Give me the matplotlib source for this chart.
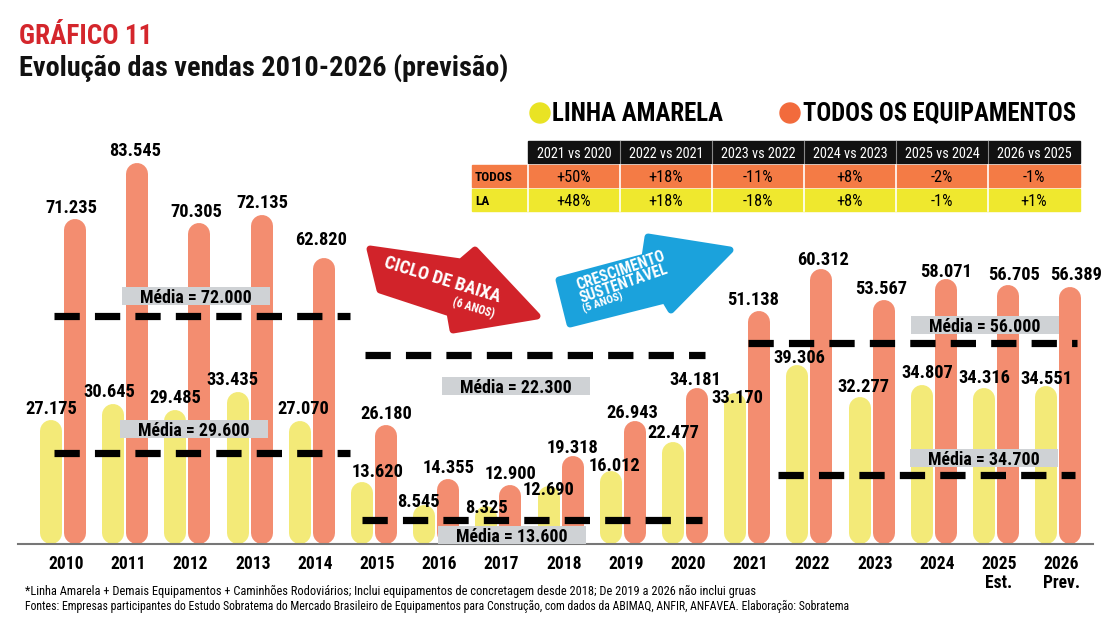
import numpy as np
import matplotlib.pyplot as plt
from matplotlib import font_manager as fm
from matplotlib.patches import Polygon, Rectangle, Circle

# fonte condensada se existir, senão Roboto (mais estreita que DejaVu)
avail = {f.name for f in fm.fontManager.ttflist}
narrow = [n for n in ['Liberation Sans Narrow', 'Roboto Condensed', 'Open Sans Condensed']
          if n in avail]
if narrow:
    FAM, K = narrow[0], 1.12
else:
    FAM, K = 'Roboto', 1.0
plt.rcParams['font.family'] = [FAM, 'DejaVu Sans']

# dados
years = np.arange(2010, 2027)
year_labels = ['2010', '2011', '2012', '2013', '2014', '2015', '2016', '2017', '2018',
               '2019', '2020', '2021', '2022', '2023', '2024', '2025\nEst.', '2026\nPrev.']
linha_amarela = [27175, 30645, 29485, 33435, 27070, 13620, 8545, 8325, 12690,
                 16012, 22477, 33170, 39306, 32277, 34807, 34316, 34551]
todos = [71235, 83545, 70305, 72135, 62820, 26180, 14355, 12900, 19318,
         26943, 34181, 51138, 60312, 53567, 58071, 56705, 56389]

media_text = ['Média = 72.000', 'Média = 29.600', 'Média = 22.300',
              'Média = 13.600', 'Média = 56.000', 'Média = 34.700']
# altura em que cada linha aparece no gráfico (não está em escala com o valor)
media_nivel = [50000, 20000, 41400, 5300, 44100, 15100]
media_ini = [2009.86, 2009.86, 2014.86, 2014.80, 2021.01, 2021.50]
media_fim = [2014.61, 2014.61, 2020.32, 2020.28, 2026.30, 2026.27]
media_box_x = [2012.14, 2012.10, 2017.28, 2017.22, 2024.82, 2024.80]
media_box_y = [54300, 25300, 34600, 1900, 48100, 18900]

tab_cols = ['2021 vs 2020', '2022 vs 2021', '2023 vs 2022', '2024 vs 2023', '2025 vs 2024', '2026 vs 2025']
tab_todos = ['+50%', '+18%', '-11%', '+8%', '-2%', '-1%']
tab_la = ['+48%', '+18%', '-18%', '+8%', '-1%', '+1%']

# ajustes finos dos rótulos (px)
la_dx = [0, -4, 0, -5, 3, 16, -6, 0, 0, 4, 0, 2, 2, 4, 5, 0, 0]
la_dy = [11, 12, 12, 12, 12, 10, 3, -2, -4, 5, 9, -5, 7, 10, 12, 10, 7]
to_dx = [-4, -2, -3, 1, -3, 0, 0, 0, 0, -2, -2, -6, 2, -2, 0, 6, 6]
to_dy = [11, 12, 11, 12, 18, 11, 11, 11, 8, 8, 8, 11, 9, 11, 7, 10, 12]

YEL = '#f3ea78'
ORA = '#f38d70'

W, H, DPI = 1116, 623, 100
fig = plt.figure(figsize=(W / DPI, H / DPI), dpi=DPI)
fig.patch.set_facecolor('white')

base_px = 544
top_px = 88
ax = fig.add_axes([0, (H - base_px) / H, 1, (base_px - top_px) / H])
px_year = 62.2
x0 = 2010 - 63 / px_year
ax.set_xlim(x0, x0 + W / px_year)
ax.set_ylim(0, 100000)
ax.set_axis_off()
px_val = (base_px - top_px) / 100000

off = 12 / px_year
bar_px = 22
lw = bar_px * 72 / DPI
r = (bar_px / 2) / px_val

for i, y in enumerate(years):
    ax.plot([y - off, y - off], [r, linha_amarela[i] - r], color=YEL, lw=lw,
            solid_capstyle='round', zorder=2)
    ax.plot([y + off, y + off], [r, todos[i] - r], color=ORA, lw=lw,
            solid_capstyle='round', zorder=3)
    ax.annotate(f'{linha_amarela[i] / 1000:.3f}', (y - off, linha_amarela[i]),
                xytext=(la_dx[i], la_dy[i]), textcoords='offset pixels',
                ha='center', va='center', fontsize=11.8 * K, fontweight='bold', zorder=6)
    ax.annotate(f'{todos[i] / 1000:.3f}', (y + off, todos[i]),
                xytext=(to_dx[i], to_dy[i]), textcoords='offset pixels',
                ha='center', va='center', fontsize=11.8 * K, fontweight='bold', zorder=6)
    ax.annotate(year_labels[i], (y + 0.05, 0), xytext=(0, -11), textcoords='offset pixels',
                ha='center', va='top', fontsize=11.3 * K, fontweight='bold',
                linespacing=1.05, annotation_clip=False)

ax.plot([2009.28, 2026.56], [0, 0], color='#777777', lw=1.5, zorder=4, clip_on=False)

box_w = 148 / px_year
box_h = 18 / px_val
for i in range(len(media_text)):
    ax.plot([media_ini[i], media_fim[i]], [media_nivel[i]] * 2, color='black', lw=5.2,
            dashes=(3.5, 2.1), dash_capstyle='butt', zorder=5)
    ax.add_patch(Rectangle((media_box_x[i] - box_w / 2, media_box_y[i] - box_h / 2), box_w, box_h,
                           fc='#cfd2d5', ec='none', zorder=6))
    ax.text(media_box_x[i], media_box_y[i], media_text[i], ha='center', va='center_baseline',
            fontsize=11.5 * K, fontweight='bold', zorder=7)

# camada de anotação em pixels
ov = fig.add_axes([0, 0, 1, 1])
ov.set_xlim(0, W)
ov.set_ylim(H, 0)
ov.set_axis_off()
ov.patch.set_alpha(0)

ov.text(19, 44, 'GRÁFICO 11', color='#d4262c', fontsize=17.5 * K, fontweight='bold', va='baseline')
ov.text(19, 76, 'Evolução das vendas 2010-2026 (previsão)', color='#111111', fontsize=18.2 * K,
        fontweight='bold', va='baseline')

ov.add_patch(Circle((540, 113), 10, color='#e9e324'))
ov.text(552, 121, 'LINHA AMARELA', fontsize=16 * K, fontweight='bold', va='baseline')
ov.add_patch(Circle((790, 113), 10, color='#f26b3c'))
ov.text(803, 121, 'TODOS OS EQUIPAMENTOS', fontsize=15.8 * K, fontweight='bold', va='baseline')

# tabela
tx0, tx1 = 528, 1080
cw = (tx1 - tx0) / len(tab_cols)
rows = [(141, 163), (165, 187), (189, 211)]
ov.add_patch(Rectangle((tx0, rows[0][0]), tx1 - tx0, rows[0][1] - rows[0][0], color='#111111'))
ov.add_patch(Rectangle((472, rows[1][0]), tx1 - 472, rows[1][1] - rows[1][0], color='#f47b45'))
ov.add_patch(Rectangle((472, rows[2][0]), tx1 - 472, rows[2][1] - rows[2][0], color='#efe82e'))
for j in range(len(tab_cols)):
    cx = tx0 + cw * (j + 0.5)
    ov.text(cx, (rows[0][0] + rows[0][1]) / 2, tab_cols[j], color='white', fontsize=9.2 * K,
            ha='center', va='center_baseline')
    ov.text(cx, (rows[1][0] + rows[1][1]) / 2, tab_todos[j], fontsize=10.5 * K,
            ha='center', va='center_baseline')
    ov.text(cx, (rows[2][0] + rows[2][1]) / 2, tab_la[j], fontsize=10.5 * K,
            ha='center', va='center_baseline')
for j in range(1, len(tab_cols)):
    xx = tx0 + cw * j
    ov.plot([xx, xx], [rows[0][0], rows[0][1]], color='#888888', lw=0.8)
    ov.plot([xx, xx], [rows[1][0], rows[2][1]], color='white', lw=1.2)
ov.plot([tx0, tx0], [rows[1][0], rows[2][1]], color='white', lw=1.2)
ov.text(475, (rows[1][0] + rows[1][1]) / 2, 'TODOS', fontsize=8.5 * K, fontweight='bold',
        va='center_baseline')
ov.text(475, (rows[2][0] + rows[2][1]) / 2, 'LA', fontsize=8.5 * K, fontweight='bold',
        va='center_baseline')

# setas decorativas (contorno em pixels)
seta_baixa = [(370, 249), (461, 262), (475, 250), (537, 316), (453, 330), (450, 313), (380, 290)]
seta_cresc = [(559, 280), (645, 257), (648, 237), (730, 250), (671, 310), (665, 300), (570, 324)]
ov.add_patch(Polygon(seta_baixa, closed=True, fc='#d1232a', ec='#d1232a', lw=5, joinstyle='round'))
ov.add_patch(Polygon(seta_cresc, closed=True, fc='#1ba2dc', ec='#1ba2dc', lw=5, joinstyle='round'))

ov.text(383, 267, 'CICLO DE BAIXA', color='white', fontsize=11.8 * K, fontweight='bold',
        rotation=-17, ha='left', va='baseline', rotation_mode='anchor')
ov.text(452, 305, '(6 ANOS)', color='white', fontsize=7.5 * K, fontweight='bold',
        rotation=-17, ha='left', va='baseline', rotation_mode='anchor')
ov.text(578, 290, 'CRESCIMENTO', color='white', fontsize=10 * K, fontweight='bold',
        rotation=19, ha='left', va='baseline', rotation_mode='anchor')
ov.text(582, 303, 'SUSTENTÁVEL', color='white', fontsize=10 * K, fontweight='bold',
        rotation=19, ha='left', va='baseline', rotation_mode='anchor')
ov.text(584, 313, '(5 ANOS)', color='white', fontsize=7.2 * K, fontweight='bold',
        rotation=19, ha='left', va='baseline', rotation_mode='anchor')

ov.text(25, 591, '*Linha Amarela + Demais Equipamentos + Caminhões Rodoviários; Inclui equipamentos de '
        'concretagem desde 2018; De 2019 a 2026 não inclui gruas', fontsize=7.95 * K, va='center')
ov.text(25, 606, 'Fontes: Empresas participantes do Estudo Sobratema do Mercado Brasileiro de '
        'Equipamentos para Construção, com dados da ABIMAQ, ANFIR, ANFAVEA. Elaboração: Sobratema',
        fontsize=7.55 * K, va='center')

fig.savefig('out.png', dpi=DPI)
